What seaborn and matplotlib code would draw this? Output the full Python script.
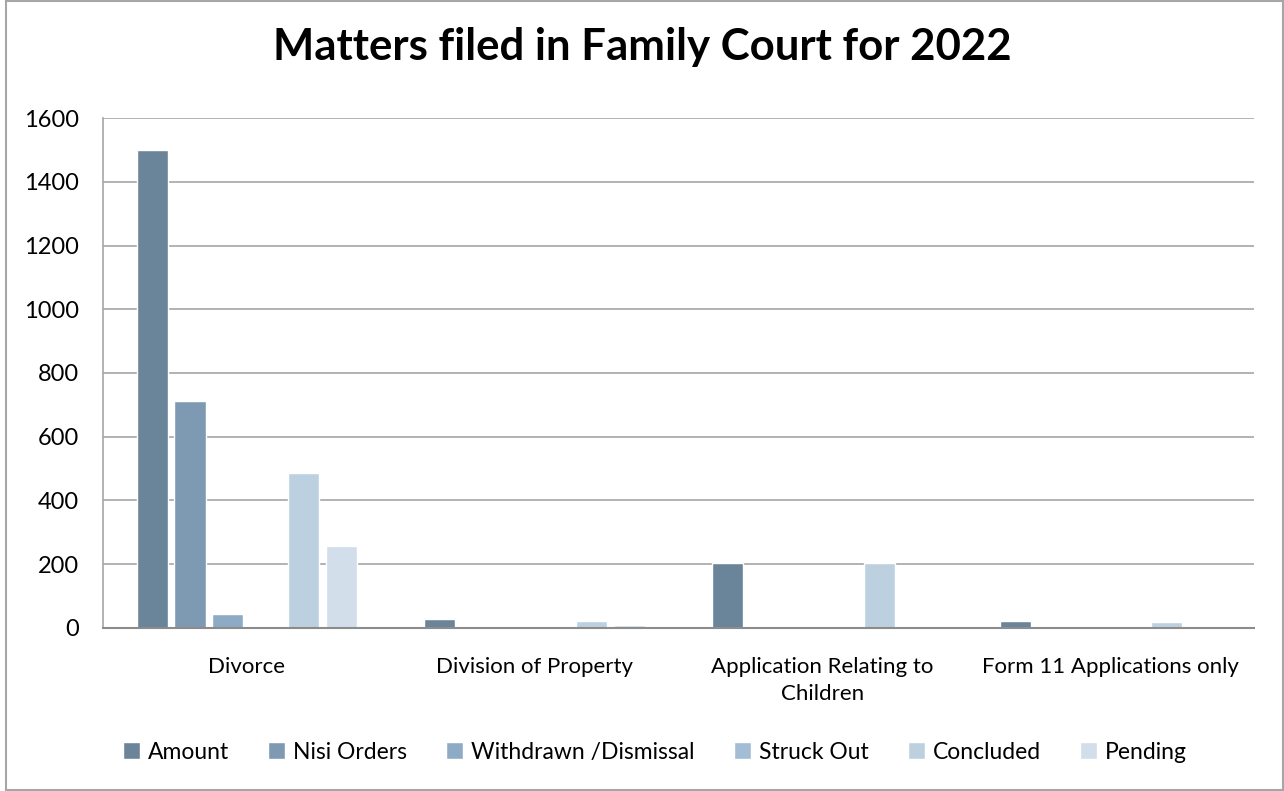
import pandas as pd
import seaborn as sns
import matplotlib.pyplot as plt
from matplotlib.patches import Rectangle

# data
categories = ['Divorce', 'Division of Property', 'Application Relating to\nChildren',
              'Form 11 Applications only']
series = ['Amount', 'Nisi Orders', 'Withdrawn /Dismissal', 'Struck Out', 'Concluded', 'Pending']
amount = [1500, 29, 204, 23]
nisi_orders = [712, 0, 0, 0]
withdrawn = [45, 0, 0, 0]
struck_out = [0, 0, 0, 4]
concluded = [487, 23, 204, 20]
pending = [258, 8, 0, 0]
colors = ['#6a849a', '#7e9ab2', '#8eabc5', '#a3bdd4', '#bdd0df', '#d2dee9']

values = [amount, nisi_orders, withdrawn, struck_out, concluded, pending]
rows = []
for s, vals in zip(series, values):
	for c, v in zip(categories, vals):
		rows.append([c, s, v])
df = pd.DataFrame(rows, columns=['Category', 'Series', 'Value'])

sns.set_theme(style='white')
plt.rcParams['font.family'] = ['Lato', 'DejaVu Sans']
plt.rcParams['text.color'] = 'black'

fig = plt.figure(figsize=(12.84, 7.91), dpi=100)
ax = fig.add_axes([0.0802, 0.2061, 0.8964, 0.6447])

sns.barplot(data=df, x='Category', y='Value', hue='Series', hue_order=series,
			palette=colors, width=0.79, gap=0.18, saturation=1, ax=ax)

ax.set_ylim(0, 1600)
ax.set_yticks(range(0, 1601, 200))
ax.yaxis.grid(True, color='#a6a6a6', linewidth=1.2)
ax.set_axisbelow(True)
ax.set_xlabel('')
ax.set_ylabel('')
for side in ['top', 'right']:
	ax.spines[side].set_visible(False)
ax.spines['left'].set_color('#a6a6a6')
ax.spines['bottom'].set_color('#8c8c8c')
ax.spines['left'].set_linewidth(1.2)
ax.spines['bottom'].set_linewidth(1.5)
ax.tick_params(axis='x', length=0, labelsize=16, labelcolor='black', pad=21)
ax.tick_params(axis='y', length=0, labelsize=17, labelcolor='black', pad=17)
for lab in ax.get_xticklabels():
	lab.set_linespacing(1.4)

fig.suptitle('Matters filed in Family Court for 2022', fontsize=31.5, fontweight='bold',
			 y=0.94, va='center', color='black')

handles, labels = ax.get_legend_handles_labels()
ax.get_legend().remove()
fig.legend(handles, labels, loc='center', bbox_to_anchor=(0.51, 0.049), ncol=6,
		   frameon=False, fontsize=16.5, handlelength=0.75, handleheight=0.75,
		   handletextpad=0.35, columnspacing=1.7, labelcolor='black')

fig.patches.append(Rectangle((0.005, 0.001), 0.994, 0.998, transform=fig.transFigure,
							 fill=False, edgecolor='#a6a6a6', linewidth=1.5))

fig.savefig('out.png', dpi=100)
